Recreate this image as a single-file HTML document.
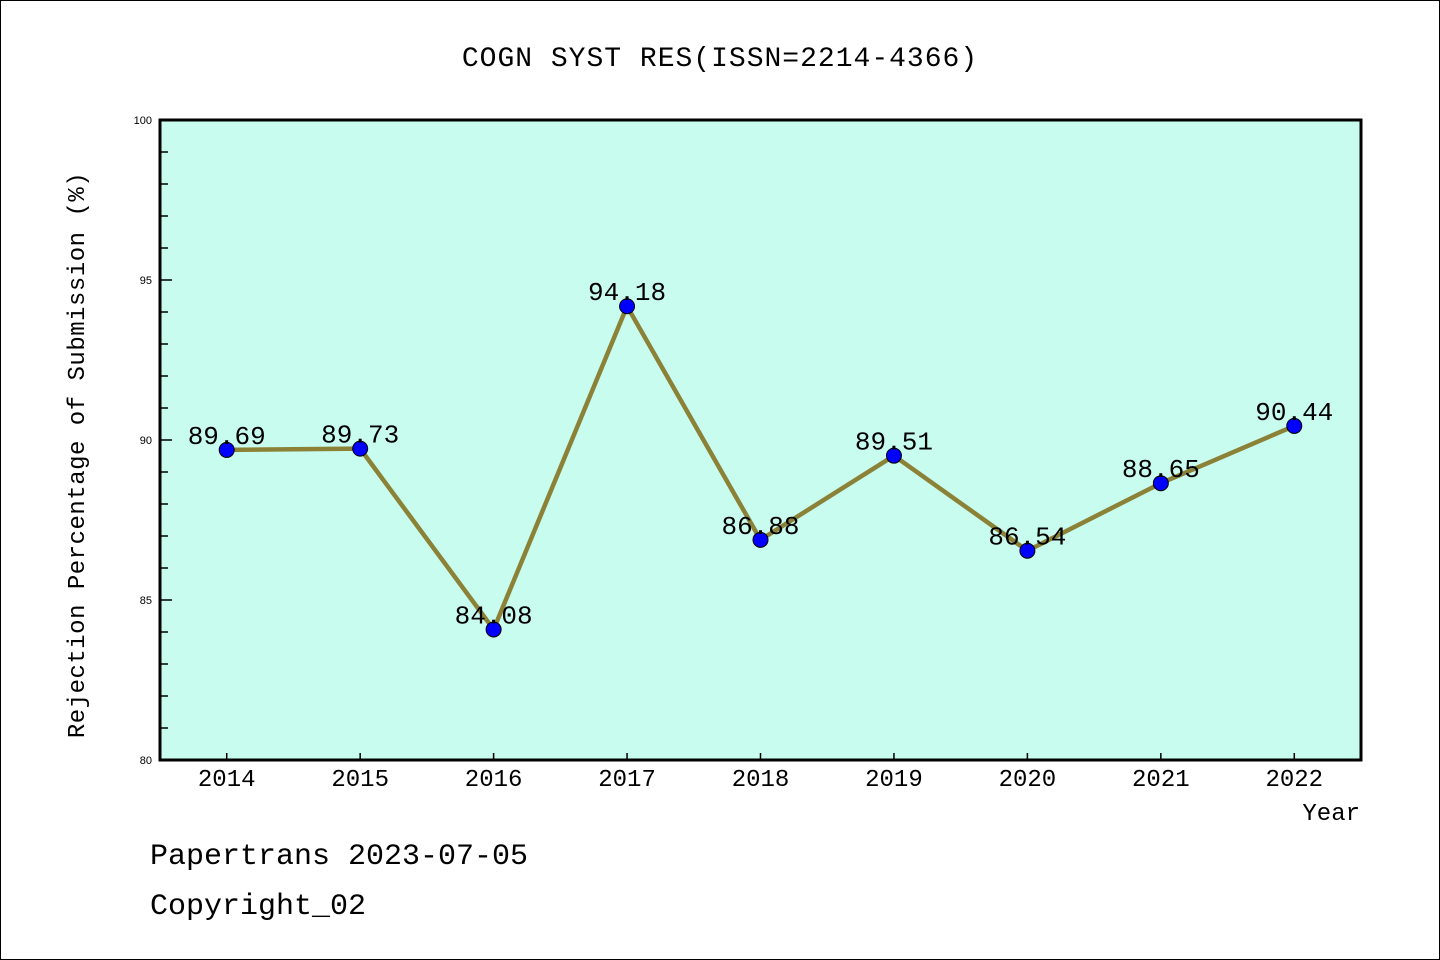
<!DOCTYPE html>
<html><head><meta charset="utf-8"><style>
html,body{margin:0;padding:0;background:#fff;}
svg{display:block;font-family:"Liberation Mono","WenQuanYi Zen Hei",monospace;}
</style></head><body>
<svg id="chart" width="1440" height="960" viewBox="0 0 1440 960">
<rect x="0.5" y="0.5" width="1439" height="959" fill="#fff" stroke="#000"/>
<text x="720" y="66" text-anchor="middle" font-size="28" letter-spacing="1">COGN SYST RES(ISSN=2214-4366)</text>
<rect x="160" y="120" width="1201" height="640" fill="#c8fcef"/>
<g id="axes"></g>
<g id="series"></g>
<rect x="160" y="120" width="1201" height="640" fill="none" stroke="#000" stroke-width="3"/>
<text x="84" y="455" transform="rotate(-90 84 455)" text-anchor="middle" font-size="24" letter-spacing="0.5">Rejection Percentage of Submission (%)</text>
<text x="1360" y="820" text-anchor="end" font-size="24">Year</text>
<text x="150" y="864" font-size="30">Papertrans 2023-07-05</text>
<text x="150" y="914" font-size="30">Copyright_02</text>
</svg>
<script>
const years = [2014,2015,2016,2017,2018,2019,2020,2021,2022];
const rates = [89.69,89.73,84.08,94.18,86.88,89.51,86.54,88.65,90.44];
const yTicks = [80,85,90,95,100];
const NS="http://www.w3.org/2000/svg";
const L=160,R=1361,T=120,B=760,xMin=2013.5,xMax=2022.5,yMin=80,yMax=100;
const xs=v=>L+(v-xMin)/(xMax-xMin)*(R-L);
const ys=v=>B-(v-yMin)/(yMax-yMin)*(B-T);
function mk(tag,attrs,parent){const e=document.createElementNS(NS,tag);for(const k in attrs)e.setAttribute(k,attrs[k]);parent.appendChild(e);return e;}
const axes=document.getElementById('axes'),ser=document.getElementById('series');
for(let v=yMin;v<=yMax;v++){
  const major=yTicks.includes(v);
  const t=mk('line',{x1:L,x2:L+(major?12:8),y1:ys(v),y2:ys(v),stroke:'#000','stroke-width':1.5},axes);
  
  
}
yTicks.forEach(v=>{
  const t=mk('text',{x:L-8,y:ys(v)+4,'text-anchor':'end','font-size':11,'font-family':'Liberation Sans, sans-serif'},axes);
  t.textContent=v;
  
  
});
years.forEach(y=>{
  const t=mk('line',{x1:xs(y),x2:xs(y),y1:B,y2:B-7,stroke:'#000','stroke-width':1.5},axes);
  
  
  const l=mk('text',{x:xs(y),y:B+26,'text-anchor':'middle','font-size':24},axes);
  l.textContent=y;
  
  
});
const pts=years.map((y,i)=>xs(y)+','+ys(rates[i])).join(' ');
const line=mk('polyline',{points:pts,fill:'none',stroke:'#8b8237','stroke-width':4.5,'stroke-linejoin':'round'},ser);


years.forEach((y,i)=>{
  const c=mk('circle',{cx:xs(y),cy:ys(rates[i]),r:7.5,fill:'#0000ff',stroke:'#000','stroke-width':1},ser);
  
  
});
years.forEach((y,i)=>{
  const t=mk('text',{x:xs(y),y:ys(rates[i])-6,'text-anchor':'middle','font-size':26},ser);
  t.textContent=rates[i].toFixed(2);
  
  
});
</script>
</body></html>
